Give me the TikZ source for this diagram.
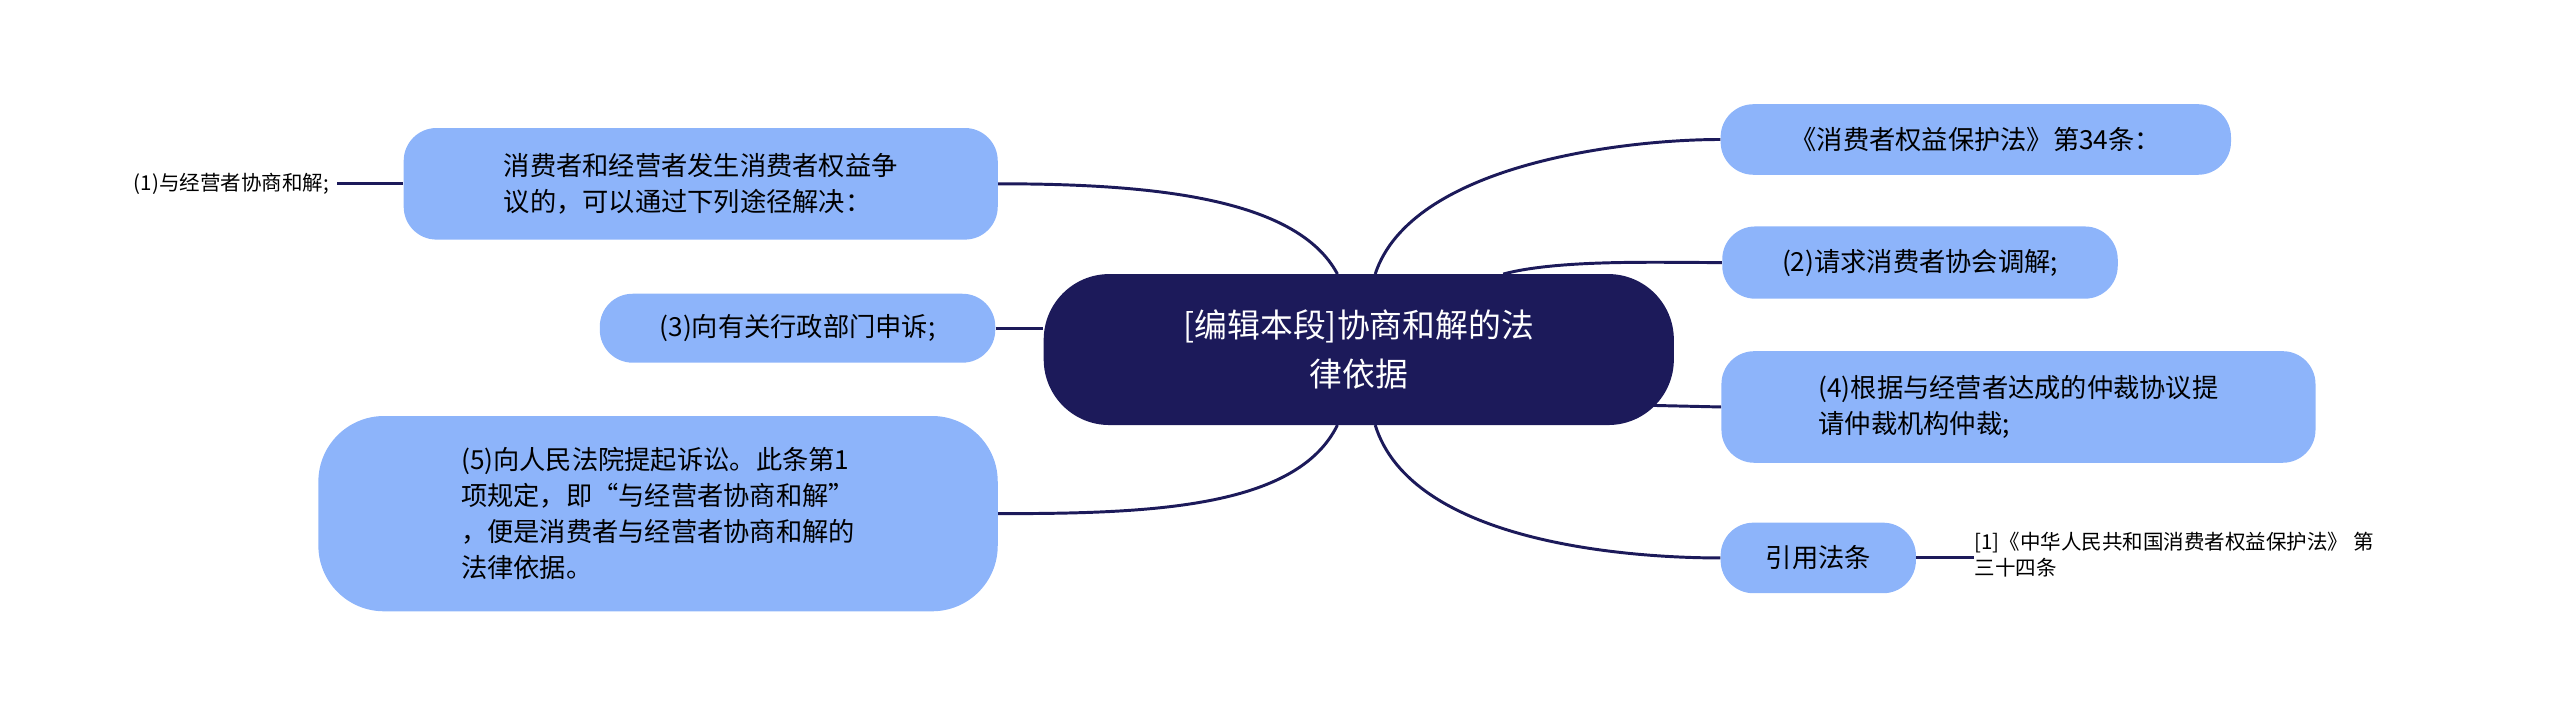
\documentclass[tikz,border=0pt]{standalone}
\usepackage{fontspec}
\setmainfont{Noto Sans CJK SC}
\begin{document}
\begin{tikzpicture}[x=1pt,y=-1pt,
  box/.style={fill=boxc,draw=none,rounded corners=20pt,inner sep=0pt,font=\fontsize{16}{22}\selectfont,text=black},
  con/.style={draw=linec,line width=1.8pt}]
\definecolor{boxc}{HTML}{8DB4FA}
\definecolor{linec}{HTML}{1C1A5A}
\useasboundingbox (0,0) rectangle (1560,434);
\node[box,fill=linec,rounded corners=40pt,minimum width=384pt,minimum height=92pt,text=white,font=\fontsize{20}{30}\selectfont,align=center] (c) at (828,213) {[编辑本段]协商和解的法\\律依据};
\node[box,minimum width=362pt,minimum height=68pt,align=left] (l1) at (427,112) {消费者和经营者发生消费者权益争\\议的，可以通过下列途径解决：};
\node[font=\fontsize{12.5}{16}\selectfont,inner sep=0pt] (t1) at (141,112) {(1)与经营者协商和解;};
\node[box,minimum width=241pt,minimum height=42pt] (l3) at (486,200) {(3)向有关行政部门申诉;};
\node[box,rounded corners=40pt,minimum width=414pt,minimum height=119pt,align=left] (l5) at (401,313) {(5)向人民法院提起诉讼。此条第1\\项规定，即“与经营者协商和解”\\，便是消费者与经营者协商和解的\\法律依据。};
\node[box,minimum width=311pt,minimum height=43pt] (r1) at (1204,85) {《消费者权益保护法》第34条：};
\node[box,minimum width=241pt,minimum height=44pt] (r2) at (1170,160) {(2)请求消费者协会调解;};
\node[box,minimum width=362pt,minimum height=68pt,align=left] (r4) at (1230,248) {(4)根据与经营者达成的仲裁协议提\\请仲裁机构仲裁;};
\node[box,minimum width=119pt,minimum height=43pt] (r5) at (1108,340) {引用法条};
\node[font=\fontsize{12.5}{16}\selectfont,inner sep=0pt,align=left,anchor=west] (t5) at (1203,338) {[1]《中华人民共和国消费者权益保护法》 第\\三十四条};
\begin{scope}[on background layer/.style={}]
\end{scope}
\draw[con] (815,167) .. controls (790,120) and (700,112) .. (l1.east);
\draw[con] (t1.east)+(5,0) -- (l1.west);
\draw[con] (l3.east) -- (c.west |- l3.east);
\draw[con] (815,259) .. controls (790,310) and (700,313) .. (l5.east);
\draw[con] (838,167) .. controls (860,100) and (990,85) .. (r1.west);
\draw[con] (916,167) .. controls (950,158) and (1010,160) .. (r2.west);
\draw[con] (1005,247) -- (r4.west);
\draw[con] (838,259) .. controls (860,330) and (990,340) .. (r5.west);
\draw[con] (r5.east) -- (t5.west |- r5.east) ++(-8,0);
\end{tikzpicture}
\end{document}
